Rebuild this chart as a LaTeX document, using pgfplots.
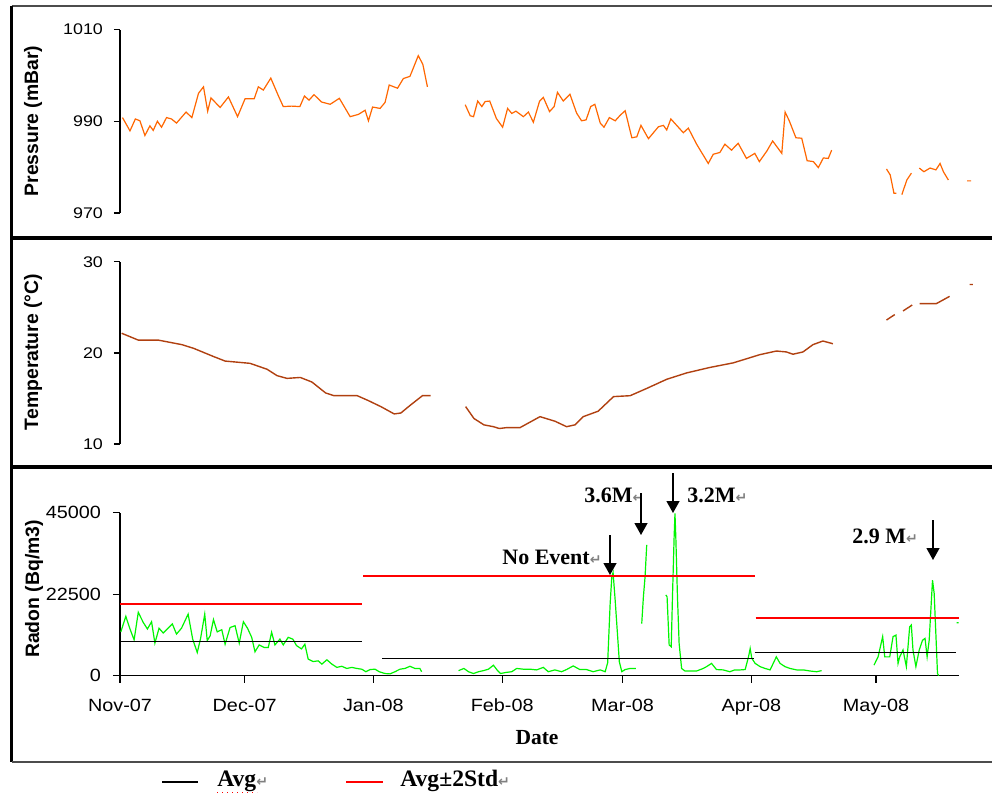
\documentclass[border=0pt]{standalone}
\usepackage{fontspec}
\setmainfont{Liberation Sans}
\newfontfamily\tnr{Liberation Serif}
\newfontfamily\dv{DejaVu Sans}
\usepackage{pgfplots}
\pgfplotsset{compat=1.18}
\usetikzlibrary{arrows.meta}
\definecolor{pres}{RGB}{255,102,0}
\definecolor{temp}{RGB}{176,64,16}
\definecolor{radon}{RGB}{0,245,0}
\definecolor{stdred}{RGB}{255,0,0}
\newcommand\para{{\dv\fontsize{7}{8}\selectfont\color{gray}↵}}
\newcommand\sxa[1]{\scalebox{1.16}[1]{#1}}
\newcommand\sxb[1]{\scalebox{1.12}[1]{#1}}
\pgfplotsset{
  myax/.style={scale only axis, tick align=outside,
    axis line style={line width=0.65pt,-,black},
    major tick style={line width=0.65pt,black},
    major tick length=3pt, unbounded coords=jump, clip=false, xmin=0,
    scaled y ticks=false, scaled x ticks=false},
}
\begin{document}
\begin{tikzpicture}[x=1pt,y=1pt]
\useasboundingbox (0,0) rectangle (496,-396.5);
% frames
\draw[line width=1pt, gray!60!black] (5.75,-2.75) -- (496,-2.75);
\draw[line width=1.1pt, black] (5.75,-2.75) -- (5.75,-381);
\draw[line width=1.6pt, black] (5.75,-119) -- (496,-119);
\draw[line width=1.6pt, black] (5.75,-233.5) -- (496,-233.5);
\draw[line width=1pt, gray!60!black] (5.75,-381) -- (496,-381);

% ---------------- pressure
\begin{axis}[myax, at={(60pt,-106.5pt)}, anchor=south west,
  width=427.9pt, height=91.75pt, xmax=206, ymin=970, ymax=1010,
  axis x line=none, axis y line*=left,
  ytick={970,990,1010}, yticklabels={\sxa{970},\sxa{990},\sxa{1010}},
  yticklabel style={font=\fontsize{7.7}{8}\selectfont, xshift=-2pt}]
\addplot[pres, line width=0.6pt] coordinates {
(0.6,990.8)(1.6,989.2)(2.4,987.9)(3.7,990.5)(4.8,990.1)(6.0,986.9)(7.2,989.0)(8.0,988.0)(9.0,990.0)(10.0,988.7)(11.2,990.8)(12.4,990.5)(13.6,989.6)(15.9,992.0)(17.3,990.8)(18.9,996.1)(20.1,997.5)(21.1,992.2)(21.9,995.1)(24.1,993.0)(26.1,995.3)(28.3,991.0)(30.1,994.9)(32.3,994.9)(33.3,997.5)(34.5,996.8)(36.3,999.4)(38.1,995.6)(39.3,993.2)(41.3,993.3)(43.3,993.2)(44.4,995.5)(45.5,994.6)(46.7,995.8)(48.5,994.2)(50.6,993.7)(52.8,995.0)(55.4,991.0)(57.4,991.5)(59.0,992.4)(59.8,990.1)(60.8,993.1)(62.6,992.8)(63.8,994.1)(64.8,997.9)(66.8,997.2)(68.2,999.3)(69.8,999.8)(71.8,1004.3)(72.9,1002.4)(74.0,997.5)
(78,nan)
(83.1,993.6)(84.3,991.2)(85.1,991.0)(86.1,994.4)(87.1,993.2)(87.9,994.3)(89.0,994.4)(90.6,990.6)(92.1,988.7)(93.3,992.8)(94.3,991.7)(95.3,992.2)(97.1,991.0)(98.3,992.0)(99.5,989.8)(101.0,994.4)(101.9,995.2)(103.4,992.1)(104.5,993.2)(105.3,996.3)(106.7,994.4)(108.3,995.9)(109.9,991.8)(111.1,990.1)(112.2,990.3)(113.3,993.2)(114.3,993.7)(115.6,989.6)(116.5,988.7)(117.8,990.8)(119.2,990.1)(120.4,991.3)(121.6,992.3)(123.2,986.4)(124.4,986.6)(125.4,989.1)(127.2,986.2)(129.6,988.8)(130.8,989.1)(131.6,988.1)(132.6,990.5)(134.0,989.1)(135.6,987.5)(136.8,988.5)(138.8,985.0)(141.6,980.8)(142.8,982.8)(144.4,983.2)(145.6,985.0)(147.2,983.7)(148.8,985.2)(150.8,981.9)(152.8,983.0)(153.9,981.2)(155.7,983.5)(157.1,985.7)(159.3,983.0)(160.1,992.0)(161.1,990.1)(162.7,986.4)(164.1,986.3)(165.4,981.4)(166.9,981.2)(168.1,979.9)(169.3,982.0)(170.5,981.9)(171.3,983.7)
(178,nan)
(184.5,979.6)(185.4,978.3)(186.3,974.3)(186.9,974.3)(187.5,nan)(188.2,974.0)(189.4,977.2)(190.5,978.7)(191.5,nan)(192.4,979.8)(193.5,979.0)(195.0,979.8)(196.4,979.4)(197.4,980.8)(198.2,979.0)(199.4,977.2)
(202,nan)
(203.9,977.0)(204.9,977.0)
};
\end{axis}

% ---------------- temperature
\begin{axis}[myax, at={(60pt,-222pt)}, anchor=south west,
  width=427.9pt, height=91.15pt, xmax=206, ymin=10, ymax=30,
  axis x line=none, axis y line*=left,
  ytick={10,20,30}, yticklabels={\sxa{10},\sxa{20},\sxa{30}},
  yticklabel style={font=\fontsize{7.7}{8}\selectfont, xshift=-2pt}]
\addplot[temp, line width=0.7pt] coordinates {
(0.4,22.15)(4.4,21.4)(9.2,21.4)(14.9,20.9)(17.7,20.5)(22.5,19.6)(25.3,19.1)(31.3,18.85)(35.4,18.2)(37.8,17.5)(40.2,17.2)(43.4,17.3)(46.2,16.8)(49.5,15.6)(51.5,15.3)(57.1,15.3)(59.6,14.8)(62.8,14.1)(66.0,13.3)(67.6,13.4)(70.0,14.3)(72.8,15.3)(74.8,15.3)
(79,nan)
(83.2,14.1)(85.2,12.8)(87.6,12.1)(89.9,11.9)(91.3,11.7)(93.1,11.8)(96.3,11.8)(99.5,12.6)(101.1,13.0)(104.7,12.5)(107.5,11.9)(109.5,12.1)(111.5,13.0)(115.1,13.6)(118.8,15.2)(122.8,15.3)(126.8,16.1)(131.6,17.1)(136.4,17.8)(142.0,18.4)(147.6,18.9)(154.0,19.8)(158.0,20.2)(160.4,20.1)(162.0,19.85)(164.4,20.1)(166.8,20.9)(169.2,21.3)(171.6,21.0)
(178,nan)
(184.5,23.6)(186.5,24.2)(187.5,nan)(188.5,24.6)(190.7,25.25)(191.6,nan)(192.5,25.4)(196.5,25.4)(199.7,26.2)
(202,nan)
(204.5,27.5)(205.3,27.5)
};
\end{axis}

% ---------------- radon
\begin{axis}[myax, at={(60pt,-337.85pt)}, anchor=south west,
  width=419.55pt, height=81.5pt, xmax=202, ymin=0, ymax=45000,
  axis x line*=bottom, axis y line*=left, major tick length=3.5pt,
  xtick={0,30,61,92,121,152,182},
  xticklabels={\sxb{Nov-07},\sxb{Dec-07},\sxb{Jan-08},\sxb{Feb-08},\sxb{Mar-08},\sxb{Apr-08},\sxb{May-08}},
  ytick={0,22500,45000}, yticklabels={\sxb{0},\sxb{22500},\sxb{45000}},
  ticklabel style={font=\fontsize{8.85}{9}\selectfont},
  xticklabel style={yshift=-4.5pt},
  yticklabel style={xshift=-2.5pt}]
\addplot[radon, line width=0.6pt] coordinates {
(0.2,12100)(1.4,16400)(2.4,12900)(3.4,9900)(4.4,17500)(5.6,14700)(6.6,12900)(7.6,14900)(8.4,9000)(9.4,13100)(10.4,11800)(11.4,12900)(12.6,14300)(13.6,11500)(14.8,13100)(16.4,17000)(17.5,10100)(18.6,6400)(19.4,10300)(20.4,17000)(21.0,9700)(21.7,11000)(22.5,15500)(23.4,12100)(24.5,12700)(25.3,8700)(26.5,13300)(27.7,13800)(28.7,9000)(29.7,14900)(30.7,13100)(31.7,10600)(32.5,6600)(33.5,8500)(34.7,7800)(35.7,7800)(36.5,12000)(37.3,8500)(38.5,10100)(39.3,8500)(40.5,10600)(41.6,10100)(42.5,8300)(43.7,7400)(44.5,8700)(45.3,4600)(46.5,3900)(47.7,4100)(48.6,3200)(49.8,4400)(51.0,3200)(52.2,2300)(53.4,2600)(54.6,2000)(55.8,2300)(57.0,2000)(58.2,1800)(59.2,1100)(60.2,1700)(61.4,1800)(62.4,1100)(63.8,600)(65.0,500)(66.2,1100)(67.4,1800)(68.6,2000)(69.8,2600)(71.0,2000)(72.2,2000)(72.6,1100)
(77,nan)
(81.5,1400)(82.8,2000)(83.9,1100)(85.1,600)(86.3,1100)(87.5,1400)(88.7,1800)(89.9,2900)(90.9,1400)(91.6,600)(92.9,900)(94.3,1100)(95.5,2000)(97.1,1800)(98.7,1800)(100.3,1600)(101.9,2300)(103.1,1100)(104.7,1600)(106.3,1100)(107.5,1700)(109.1,2700)(110.7,1700)(112.3,1700)(113.9,1100)(115.6,1600)(116.8,1100)(117.4,3600)(118.0,20000)(118.4,27300)(118.7,28500)(119.2,20900)(119.8,10800)(120.2,3900)(120.8,1100)(121.6,1700)(122.8,2000)(124.2,2000)
(124.9,nan)
(125.6,14400)(126.0,21800)(126.4,27300)(126.8,36100)
(127.5,nan)
(131.4,22300)(131.7,21800)(132.2,8500)(132.7,8000)(133.0,21800)(133.4,38400)(133.6,44800)(133.8,38400)(134.2,21800)(134.6,8900)(135.2,2000)(136.0,1300)(137.2,1300)(138.8,1300)(140.4,2000)(141.2,2500)(142.4,3400)(143.6,1700)(145.2,1600)(146.8,1100)(148.0,1600)(149.3,1600)(150.5,1700)(151.3,5200)(151.7,7500)(152.1,4800)(152.9,3400)(154.1,2500)(155.3,2000)(156.5,1600)(158.0,5200)(158.9,3400)(160.1,2500)(161.3,2000)(162.9,1600)(164.5,1600)(166.1,1300)(167.7,1100)(168.9,1400)
(175,nan)
(181.5,2900)(182.5,5200)(183.6,10800)(184.1,5200)(185.3,5200)(186.1,10800)(186.8,11200)(187.3,3400)(187.7,5200)(188.5,7100)(189.3,2500)(190.1,13500)(190.5,14000)(190.9,7100)(191.6,2500)(192.4,7100)(193.2,9800)(193.8,10300)(194.3,5200)(194.8,9800)(195.2,18100)(195.6,26400)(196.0,22700)(196.4,11700)(196.8,600)(197.1,0)
(199,nan)
(201.4,14600)(201.9,14600)
};
% averages
\addplot[black, line width=0.75pt] coordinates {(0,9400)(58.3,9400)};
\addplot[black, line width=0.75pt] coordinates {(63.1,4800)(152.6,4800)};
\addplot[black, line width=0.75pt] coordinates {(152.8,6460)(201.2,6460)};
% averages +/- 2 std
\addplot[stdred, line width=0.9pt] coordinates {(0,19750)(58.3,19750)};
\addplot[stdred, line width=0.8pt] coordinates {(58.5,27500)(152.8,27500)};
\addplot[stdred, line width=0.8pt] coordinates {(153.0,16000)(202,16000)};
\end{axis}

% axis titles
\node[rotate=90, font=\bfseries\fontsize{9.7}{10}\selectfont] at (16.5,-60.5) {Pressure (mBar)};
\node[rotate=90, font=\bfseries\fontsize{9.7}{10}\selectfont] at (16.5,-176) {Temperature (°C)};
\node[rotate=90, font=\bfseries\fontsize{9.7}{10}\selectfont] at (17,-294.5) {Radon (Bq/m3)};
\node[font=\tnr\bfseries\fontsize{10.75}{11}\selectfont] at (268.5,-369) {Date};

% annotations
\begin{scope}[font=\tnr\bfseries\fontsize{11}{11}\selectfont]
\node[anchor=west, inner sep=0pt] at (251,-278.5) {No Event\para};
\node[anchor=west, inner sep=0pt] at (292,-247.5) {3.6M\para};
\node[anchor=west, inner sep=0pt] at (343.5,-247.5) {3.2M\para};
\node[anchor=west, inner sep=0pt] at (426,-268) {2.9 M\para};
\end{scope}
\begin{scope}[line width=0.65pt, -{Triangle[width=6.5pt,length=6pt]}]
\draw (305,-267.5) -- (305,-287.5);
\draw (320.5,-246.5) -- (320.5,-267.5);
\draw (336.5,-236.5) -- (336.5,-256.5);
\draw (466.5,-260) -- (466.5,-280);
\end{scope}

% legend
\draw[black, line width=0.65pt] (81,-391) -- (99,-391);
\node[anchor=base west, inner sep=0pt, font=\tnr\bfseries\fontsize{11.8}{12}\selectfont] at (108.5,-393.3) {Avg\para};
\draw[red, dotted, line width=0.5pt] (108.5,-396) -- (128.5,-396);
\draw[stdred, line width=0.65pt] (173,-391) -- (191.5,-391);
\node[anchor=base west, inner sep=0pt, font=\tnr\bfseries\fontsize{11.8}{12}\selectfont] at (200,-393.3) {Avg±2Std\para};
\end{tikzpicture}
\end{document}
